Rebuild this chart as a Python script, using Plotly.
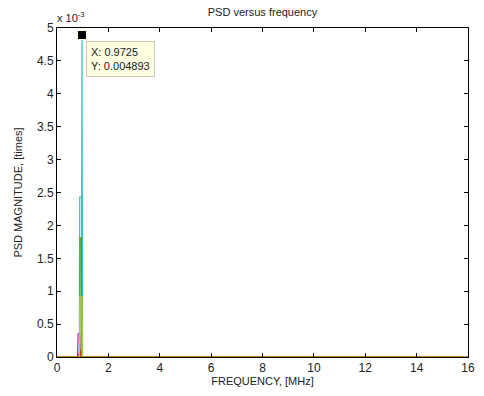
import plotly.graph_objects as go

# PSD traces: frequency [MHz] and magnitude [times]
cyan_a_f = [0.0, 0.95, 0.9725, 0.995, 16.0]
cyan_a_v = [0.0, 0.0, 0.004893, 0.0, 0.0]

cyan_b_f = [0.0, 0.87, 0.885, 0.96, 0.975, 16.0]
cyan_b_v = [0.0, 0.0, 0.00243, 0.00243, 0.0, 0.0]

green_f = [0.0, 0.89, 0.90, 0.95, 0.96, 16.0]
green_v = [0.0, 0.0, 0.00181, 0.00181, 0.0, 0.0]

magenta_f = [0.0, 0.80, 0.82, 0.88, 0.90, 16.0]
magenta_v = [0.0, 0.0, 0.00035, 0.00035, 0.0, 0.0]

red_f = [0.0, 0.84, 0.90, 0.94, 16.0]
red_v = [0.0, 0.0, 0.00012, 0.0, 0.0]

yellow_f = [0.0, 0.88, 0.89, 0.97, 0.98, 16.0]
yellow_v = [0.0, 0.0, 0.00091, 0.00091, 0.0, 0.0]

# data cursor
tip_x = 0.9725
tip_y = 0.004893

x_ticks = [0, 2, 4, 6, 8, 10, 12, 14, 16]
y_ticks = [0, 0.0005, 0.001, 0.0015, 0.002, 0.0025, 0.003, 0.0035, 0.004, 0.0045, 0.005]
y_tick_text = ["0", "0.5", "1", "1.5", "2", "2.5", "3", "3.5", "4", "4.5", "5"]

FONT = "Liberation Sans, Arial, sans-serif"

series = [
    (cyan_a_f, cyan_a_v, "#22C8C8"),
    (cyan_b_f, cyan_b_v, "#22C8C8"),
    (green_f, green_v, "#55A020"),
    (magenta_f, magenta_v, "#C020C0"),
    (red_f, red_v, "#D01010"),
    (yellow_f, yellow_v, "#D0D010"),
]

fig = go.Figure()
for f, v, c in series:
    fig.add_trace(go.Scatter(x=f, y=v, mode="lines",
                             line=dict(color=c, width=1.2), showlegend=False,
                             hoverinfo="skip"))

fig.add_trace(go.Scatter(x=[tip_x], y=[tip_y], mode="markers",
                         marker=dict(symbol="square", size=9, color="black",
                                     line=dict(color="#FFFFE1", width=1)),
                         showlegend=False, cliponaxis=False))

fig.add_annotation(x=tip_x, y=tip_y, xref="x", yref="y",
                   text=f"X: {tip_x}<br>Y: {tip_y}",
                   showarrow=False, xanchor="left", yanchor="top",
                   xshift=4, yshift=-6, align="left",
                   bgcolor="#FFFFE1", bordercolor="#C8C8B4", borderwidth=1,
                   borderpad=4,
                   font=dict(family=FONT, size=11, color="#222"))

fig.add_annotation(x=0, y=1, xref="paper", yref="paper",
                   text="x 10<sup>-3</sup>", showarrow=False,
                   xanchor="left", yanchor="bottom", yshift=2, xshift=-2,
                   font=dict(family=FONT, size=11, color="#222"))

axis_common = dict(showgrid=False, zeroline=False, showline=True,
                   linecolor="black", linewidth=1, mirror="ticks",
                   ticks="inside", ticklen=4, tickcolor="black",
                   tickfont=dict(family=FONT, size=12, color="#222"))

fig.update_layout(
    width=484, height=396,
    margin=dict(l=57, r=9, t=28, b=39),
    paper_bgcolor="white", plot_bgcolor="white",
    title=dict(text="PSD versus frequency", x=0.5, xref="paper",
               y=1 - 12 / 396, yref="container", yanchor="middle",
               font=dict(family=FONT, size=11, color="#222")),
    xaxis=dict(range=[0, 16], tickvals=x_ticks,
               title=dict(text="FREQUENCY, [MHz]", standoff=2,
                          font=dict(family=FONT, size=11, color="#222")),
               **axis_common),
    yaxis=dict(range=[0, 0.005], tickvals=y_ticks, ticktext=y_tick_text,
               title=dict(text="PSD MAGNITUDE, [times]", standoff=12,
                          font=dict(family=FONT, size=11, color="#222")),
               **axis_common),
)

fig.write_html("out.html")
